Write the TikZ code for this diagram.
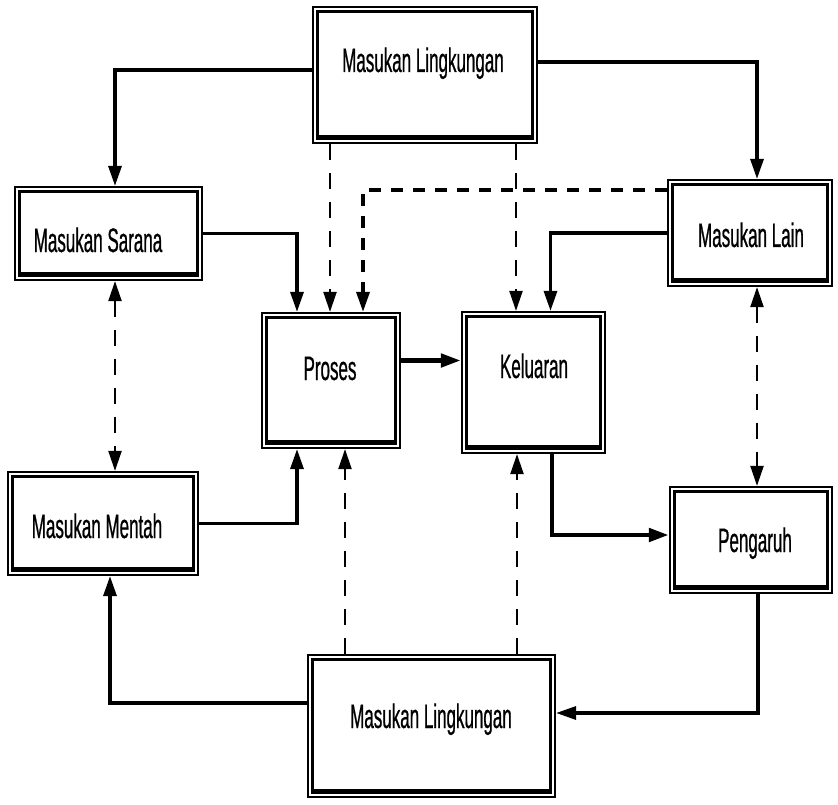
\documentclass[tikz,border=0pt]{standalone}
\usepackage{fontspec}
\newfontfamily\lab[FakeStretch=0.5,FakeBold=0.6]{Liberation Sans}
\usetikzlibrary{arrows.meta}
\tikzset{
  obox/.style={draw, line width=2.2pt, inner sep=0pt, fill=white},
  ibox/.style={draw, line width=3pt},
  ibot/.style={line width=5pt},
  txt/.style={font=\lab\fontsize{34}{40}\selectfont, anchor=base, inner sep=0pt},
  tip/.style={-{Triangle[length=20pt,width=13pt]}},
  conn/.style={draw, line width=3.2pt, tip},
  connT/.style={draw, line width=4.6pt, tip},
  dsh/.style={draw, line width=2.2pt, dash pattern=on 16pt off 13pt, tip},
  dshT/.style={draw, line width=3.4pt, dash pattern=on 12pt off 10pt, tip},
  dshB/.style={draw, line width=2.2pt, dash pattern=on 16pt off 13pt,
    {Triangle[length=20pt,width=13pt]}-{Triangle[length=20pt,width=13pt]}}
}
\newcommand\mybox[4]{%
  \node[obox, minimum width=#3pt, minimum height=#4pt] (#1) at (#2) {};
  \draw[ibox] ([shift={(5.5pt,-5.5pt)}]#1.north west) rectangle ([shift={(-5.5pt,5.5pt)}]#1.south east);
  \draw[ibot] ([shift={(5.5pt,7pt)}]#1.south west) -- ([shift={(-5.5pt,7pt)}]#1.south east);
}
\begin{document}
\begin{tikzpicture}[x=1pt,y=-1pt]
\fill[white] (0,0) rectangle (838,805);
\useasboundingbox (0,0) rectangle (838,805);
% boxes
\mybox{top}{425,75}{224}{136}
\mybox{sarana}{108.5,233.5}{187}{93}
\mybox{lain}{750,233}{164}{106}
\mybox{proses}{331,380.5}{138}{135}
\mybox{kel}{533.5,382.5}{143}{141}
\mybox{mentah}{103,523.5}{190}{103}
\mybox{peng}{751,540}{162}{106}
\mybox{bot}{431.5,726}{247}{142}
% texts
\node[txt] (t1) at (423,72) {Masukan Lingkungan};
\node[txt] (t2) at (98,252) {Masukan Sarana};
\node[txt] (t3) at (751,247) {Masukan Lain};
\node[txt] (t4) at (330,380) {Proses};
\node[txt] (t5) at (534,378) {Keluaran};
\node[txt] (t6) at (97,538) {Masukan Mentah};
\node[txt] (t7) at (755,552) {Pengaruh};
\node[txt] (t8) at (431,728) {Masukan Lingkungan};
% connection points
\coordinate (pIn1) at ([xshift=-34pt]proses.north);
\coordinate (pIn2) at ([xshift=-1pt]proses.north);
\coordinate (pIn3) at ([xshift=32pt]proses.north);
\coordinate (kIn1) at ([xshift=-17.5pt]kel.north);
\coordinate (kIn2) at ([xshift=17pt]kel.north);
\coordinate (pOut1) at ([xshift=-34pt]proses.south);
\coordinate (pOut2) at ([xshift=14pt]proses.south);
\coordinate (kOut1) at ([xshift=-16.5pt]kel.south);
\coordinate (kOut2) at ([xshift=18.5pt]kel.south);
\coordinate (sIn) at ([xshift=6.5pt]sarana.north);
\coordinate (sOut) at ([xshift=6.5pt]sarana.south);
\coordinate (lIn) at ([xshift=7pt]lain.north);
\coordinate (lOut) at ([xshift=7pt]lain.south);
\coordinate (pk) at ([yshift=20pt]proses.east);
\coordinate (mIn) at ([xshift=7pt]mentah.south);
% solid connectors
\draw[conn] ([yshift=5pt]top.west) -| (sIn);
\draw[conn] ([yshift=13pt]top.east) -| (lIn);
\draw[conn] (sarana.east) -| (pIn1);
\draw[conn] (lain.west) -| (kIn2);
\draw[connT] (pk) -- (pk -| kel.west);
\draw[conn] (mentah.east) -| (pOut1);
\draw[connT] (kOut2) |- ([yshift=5pt]peng.west);
\draw[conn] ([xshift=7pt]peng.south) |- ([yshift=13pt]bot.east);
\draw[conn] ([yshift=23pt]bot.west) -| (mIn);
% dashed connectors
\draw[dsh] (pIn2 |- top.south) -- (pIn2);
\draw[dsh] (kIn1 |- top.south) -- (kIn1);
\draw[dshT] ([yshift=43pt]lain.west) -| (pIn3);
\draw[dshB] (sOut) -- (sOut |- mentah.north);
\draw[dshB] (lOut) -- (lOut |- peng.north);
\draw[dsh] (pOut2 |- bot.north) -- (pOut2);
\draw[dsh] (kOut1 |- bot.north) -- (kOut1);
\end{tikzpicture}
\end{document}
